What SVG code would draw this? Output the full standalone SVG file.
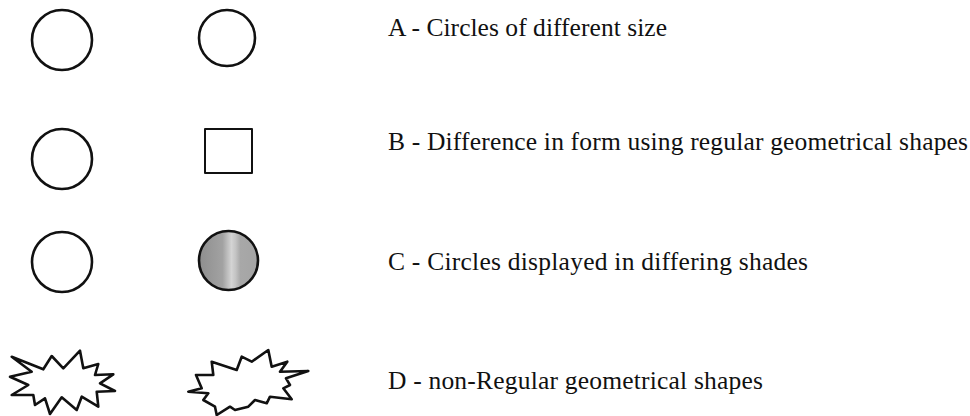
<svg xmlns="http://www.w3.org/2000/svg" width="970" height="416" viewBox="0 0 970 416">
<style>
.sh{fill:#fff;stroke:#111;stroke-width:2.6;stroke-linejoin:round}
.lbl{font-family:"Liberation Serif","Times New Roman",serif;font-size:25.5px;fill:#111}
</style>
<defs>
<linearGradient id="shade" x1="0" y1="0" x2="1" y2="0">
<stop offset="0" stop-color="#8e8e8e"/>
<stop offset="0.4" stop-color="#a2a2a2"/>
<stop offset="0.55" stop-color="#d4d4d4"/>
<stop offset="0.62" stop-color="#c4c4c4"/>
<stop offset="0.7" stop-color="#a8a8a8"/>
<stop offset="1" stop-color="#a4a4a4"/>
</linearGradient>
</defs>
<rect width="970" height="416" fill="#fff"/>
<g id="rowA">
<circle class="sh" cx="62" cy="40" r="30"/>
<circle class="sh" cx="227" cy="38" r="28"/>
<text class="lbl" x="388" y="36" textLength="279" lengthAdjust="spacing">A - Circles of different size</text>
</g>
<g id="rowB">
<circle class="sh" cx="62" cy="159" r="30"/>
<rect class="sh" x="205" y="129" width="47" height="44" style="stroke-width:2"/>
<text class="lbl" x="388" y="150" textLength="580" lengthAdjust="spacing">B - Difference in form using regular geometrical shapes</text>
</g>
<g id="rowC">
<circle class="sh" cx="62" cy="262" r="30"/>
<circle class="sh" cx="228.5" cy="260.5" r="29.5" style="fill:url(#shade)"/>
<text class="lbl" x="388" y="270" textLength="420" lengthAdjust="spacing">C - Circles displayed in differing shades</text>
</g>
<g id="rowD">
<polygon class="sh" points="11.7,356.7 43.3,369.3 51.7,356 63.3,368.3 80,350.7 83.3,368.3 98.3,364 95,375 113.3,374.3 100,383.3 115,391 96.7,391.7 98.3,406.7 81.7,396.7 76.7,410 61.7,397.3 50,414 45,398.3 35,405 33.3,395 11.7,395 28.3,385 10,376.7 31.7,371.7"/>
<polygon class="sh" points="211.7,361.7 236.7,370 241.7,356.7 251.7,361.7 268.3,350 271.7,366.7 287.3,361.7 280,371.7 308.3,371 286,378.3 290,385 283.3,388.3 291.7,399.3 270,396.7 266.7,403.3 255,400 248.3,406.7 235,410 230,406.7 216.7,415 215,406.7 203.3,400 208.3,393.3 188.3,391.7 201.7,388.3 196,375 213.3,375"/>
<text class="lbl" x="388" y="389" textLength="375" lengthAdjust="spacing">D - non-Regular geometrical shapes</text>
</g>
</svg>
